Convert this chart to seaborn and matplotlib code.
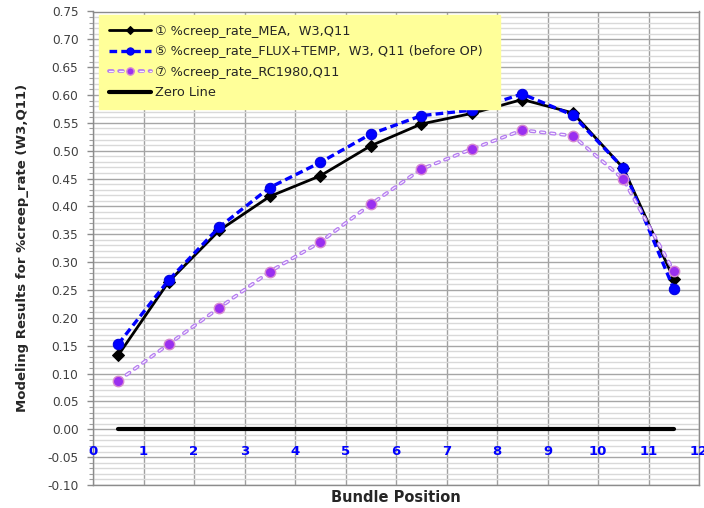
import matplotlib
matplotlib.use("Agg")
import matplotlib.pyplot as plt
from matplotlib.ticker import MultipleLocator
from matplotlib.legend_handler import HandlerTuple
import seaborn as sns
import pandas as pd

# Bundle positions (slot centres)
positions = [0.5, 1.5, 2.5, 3.5, 4.5, 5.5, 6.5, 7.5, 8.5, 9.5, 10.5, 11.5]

# Modelled %creep_rate per bundle position
creep_mea = [0.133, 0.265, 0.357, 0.418, 0.455, 0.509, 0.548, 0.567, 0.592, 0.568, 0.469, 0.270]
creep_flux_temp = [0.153, 0.268, 0.363, 0.434, 0.479, 0.530, 0.563, 0.573, 0.602, 0.564, 0.469, 0.252]
creep_rc1980 = [0.087, 0.153, 0.218, 0.283, 0.336, 0.404, 0.467, 0.503, 0.537, 0.527, 0.449, 0.284]
zero_line = [0.0] * len(positions)

labels = [
    "\u2460 %creep_rate_MEA,  W3,Q11",
    "\u2464 %creep_rate_FLUX+TEMP,  W3, Q11 (before OP)",
    "\u2466 %creep_rate_RC1980,Q11",
    "Zero Line",
]
x_ticks = list(range(0, 13))

df = pd.DataFrame({
    "pos": positions,
    "mea": creep_mea,
    "flux": creep_flux_temp,
    "rc": creep_rc1980,
    "zero": zero_line,
})

sns.set_style("white")
plt.rcParams["font.family"] = ["DejaVu Sans", "Noto Sans CJK JP"]
plt.rcParams["lines.scale_dashes"] = False

fig = plt.figure(figsize=(7.04, 5.08), dpi=100)
ax = fig.add_axes([93 / 704, 23 / 508, 606 / 704, 473.5 / 508])

PURPLE_LINE = "#b57cf0"
PURPLE_FILL = "#9a2ff0"

sns.lineplot(data=df, x="pos", y="mea", ax=ax, color="black", lw=2.0,
             marker="D", markersize=6.5, markeredgecolor="black", legend=False, zorder=4)
sns.lineplot(data=df, x="pos", y="flux", ax=ax, color="#0000ff", lw=2.4,
             linestyle=(0, (5.5, 3.0)), marker="o", markersize=7.5,
             markeredgecolor="#0000dd", legend=False, zorder=5)
# RC1980 series: outlined dashes (outer stroke + light core), markers on top
sns.lineplot(data=df, x="pos", y="rc", ax=ax, color=PURPLE_LINE, lw=2.7,
             linestyle=(0, (2.7, 4.6)), dash_capstyle="round", legend=False, zorder=6)
sns.lineplot(data=df, x="pos", y="rc", ax=ax, color="#f8f0ff", lw=0.9,
             linestyle=(0, (2.7, 4.6)), dash_capstyle="round", legend=False, zorder=6.1)
sns.lineplot(data=df, x="pos", y="rc", ax=ax, color=PURPLE_FILL, linestyle="",
             marker="o", markersize=7.5, markerfacecolor=PURPLE_FILL,
             markeredgecolor="#d58ad0", markeredgewidth=1.0, legend=False, zorder=6.2)
sns.lineplot(data=df, x="pos", y="zero", ax=ax, color="black", lw=3,
             legend=False, zorder=3)

lines = ax.get_lines()
h_mea, h_flux, h_rc_out, h_rc_in, h_rc_mk, h_zero = lines[:6]

ax.set_xlim(0, 12)
ax.set_ylim(-0.10, 0.75)

# gridlines: major every 0.05, minor every 0.01 on y; every unit on x
ax.yaxis.set_major_locator(MultipleLocator(0.05))
ax.yaxis.set_minor_locator(MultipleLocator(0.01))
ax.xaxis.set_major_locator(MultipleLocator(1))
ax.grid(which="major", axis="y", color="#a6a6a6", lw=1.0, zorder=0)
ax.grid(which="minor", axis="y", color="#d9d9d9", lw=1.0, zorder=0)
ax.grid(which="major", axis="x", color="#a0a0a0", lw=1.0, zorder=0)
ax.set_axisbelow(True)

ax.yaxis.set_major_formatter(plt.FuncFormatter(lambda v, p: f"{v:.2f}"))
ax.tick_params(axis="y", which="major", left=True, length=4.5, width=1, color="#8c8c8c",
               labelsize=8.7, labelcolor="#404040", pad=6)
ax.tick_params(axis="y", which="minor", left=True, length=3, width=0.8, color="#a0a0a0")
ax.tick_params(axis="x", which="both", bottom=False, labelbottom=False)

# category labels sit just below the zero level
for t in x_ticks:
    ax.text(t, -0.039, str(t), ha="center", va="center", color="#0000ff",
            fontsize=9.5, fontweight="bold", clip_on=False)

for s in ax.spines.values():
    s.set_color("#8c8c8c")
    s.set_linewidth(1)

ax.set_xlabel("")
ax.set_ylabel("Modeling Results for %creep_rate (W3,Q11)", fontsize=9.5,
              fontweight="bold")
ax.yaxis.set_label_coords(-0.1056, 0.5)
fig.text((93 + 699) / 2 / 704, 1 - 497 / 508, "Bundle Position", ha="center",
         va="center", fontsize=10.5, fontweight="bold")

leg = ax.legend(
    handles=[h_mea, h_flux, (h_rc_out, h_rc_in, h_rc_mk), h_zero],
    labels=labels,
    handler_map={tuple: HandlerTuple(ndivide=1, pad=0)},
    loc="upper left", bbox_to_anchor=(0.0099, 0.993, 0.662, 0.0),
    mode="expand", borderaxespad=0, fontsize=9.3, handlelength=3.25,
    labelspacing=0.58, frameon=True, fancybox=False, markerscale=0.7,
    facecolor="#ffff99", edgecolor="#ffff99", framealpha=1,
    borderpad=0.77, handletextpad=0.35)
leg.set_zorder(10)

fig.savefig("out.png", dpi=100)
